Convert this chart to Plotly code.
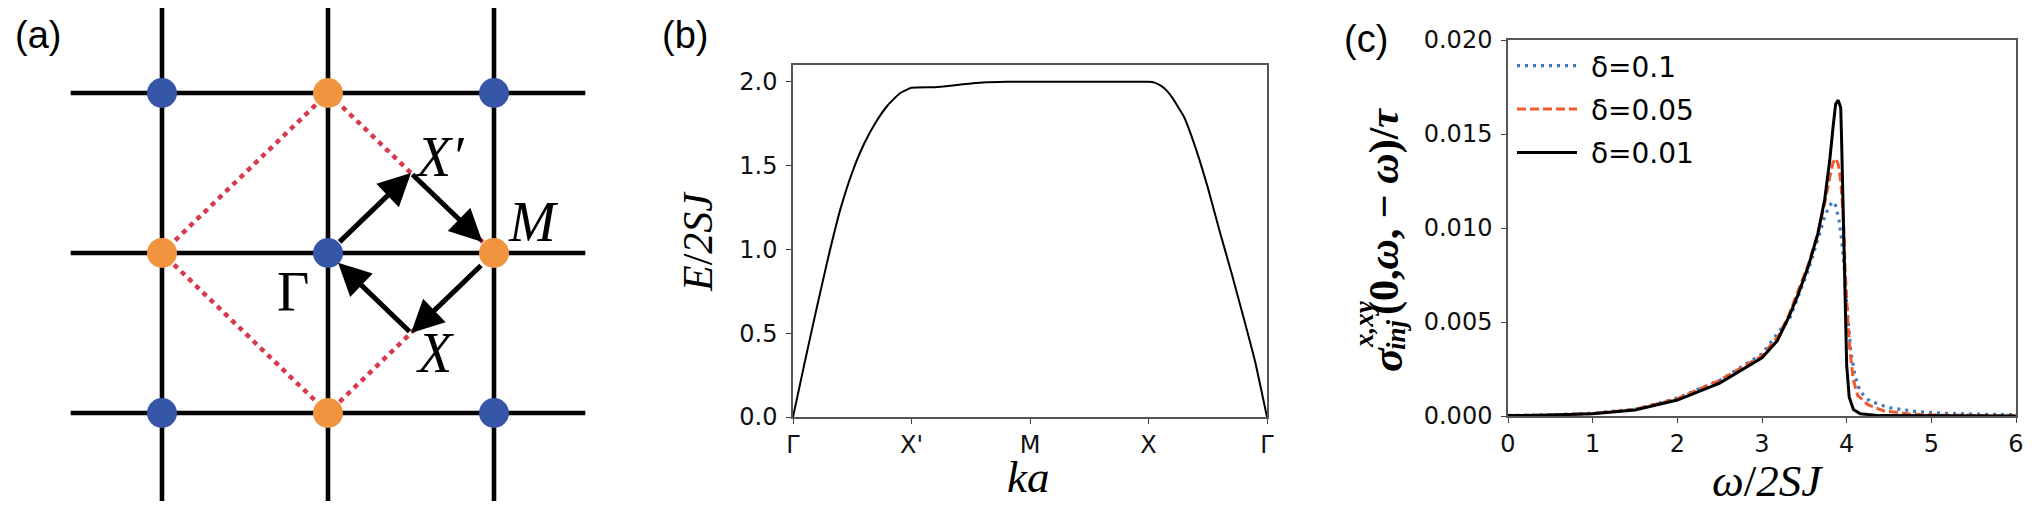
import plotly.graph_objects as go

# page body keeps its default 8px margin, so the figure is 8px smaller
OFF = 8
W, H = 2044 - OFF, 506 - OFF

# (a) square lattice, lattice-constant units
sites = [-1, 0, 1]
bond_reach = 1.55
blue_x = [-1, 1, 0, -1, 1]
blue_y = [1, 1, 0, -1, -1]
orange_x = [0, -1, 1, 0]
orange_y = [1, 0, 0, -1]
zone_x = [0, 1, 0, -1, 0]
zone_y = [1, 0, -1, 0, 1]
hs_points = {"Γ": (0, 0), "X'": (0.5, 0.5), "M": (1, 0), "X": (0.5, -0.5)}
hs_path = ["Γ", "X'", "M", "X", "Γ"]

# (b) dispersion along Γ-X'-M-X-Γ
k_b = [0, 0.1, 0.2, 0.3, 0.4, 0.5, 0.6, 0.7, 0.8, 0.9, 1.0,
       1.2, 1.4, 1.6, 1.8, 2.0, 2.5, 3.0, 3.05, 3.1, 3.15, 3.2, 3.3, 3.4, 3.5,
       3.6, 3.7, 3.8, 3.9, 4.0]
e_b = [0, 0.33, 0.65, 0.96, 1.24, 1.46, 1.63, 1.76, 1.86, 1.93, 1.964,
       1.968, 1.982, 1.995, 2.0, 2.0, 2.0, 2.0, 1.995, 1.978, 1.95, 1.905, 1.79,
       1.60, 1.37, 1.11, 0.86, 0.60, 0.33, 0]
k_ticks = ["Γ", "X'", "M", "X", "Γ"]

# (c) injection current
w_1 = [0, 0.5, 1.0, 1.5, 2.0, 2.5, 3.0, 3.2, 3.32, 3.43, 3.55, 3.66, 3.74, 3.80,
       3.84, 3.87, 3.91, 3.94, 3.97, 3.99, 4.02, 4.05, 4.10, 4.16, 4.27, 4.50,
       4.83, 5.17, 5.5, 6.0]
s_1 = [0.00003, 0.00006, 0.00015, 0.00036, 0.00095, 0.0019, 0.0033, 0.0045,
       0.0051, 0.0064, 0.0078, 0.0094, 0.0106, 0.0112, 0.0114, 0.0112, 0.0104,
       0.0094, 0.0080, 0.0065, 0.0048, 0.0034, 0.0021, 0.0013, 0.0008, 0.00044,
       0.00023, 0.00014, 0.0001, 0.00007]
w_05 = [0, 0.5, 1.0, 1.5, 2.0, 2.5, 3.0, 3.2, 3.32, 3.43, 3.55, 3.66, 3.74, 3.80,
        3.84, 3.87, 3.90, 3.93, 3.96, 3.98, 4.01, 4.04, 4.08, 4.13, 4.25, 4.44,
        4.72, 5.0, 6.0]
s_05 = [0.00002, 0.00005, 0.00013, 0.00035, 0.00092, 0.0019, 0.0032, 0.0043,
        0.0054, 0.0067, 0.0081, 0.0097, 0.0113, 0.0127, 0.0135, 0.0137, 0.0134,
        0.0125, 0.0106, 0.0080, 0.0053, 0.0034, 0.0019, 0.0011, 0.0006, 0.00027,
        0.00012, 0.00005, 0.00001]
w_01 = [0, 0.5, 1.0, 1.5, 2.0, 2.5, 3.0, 3.18, 3.32, 3.43, 3.55, 3.66, 3.74, 3.80,
        3.84, 3.87, 3.90, 3.93, 3.94, 3.96, 3.98, 4.00, 4.03, 4.08, 4.16, 4.39, 6.0]
s_01 = [0.00002, 0.00005, 0.00012, 0.00032, 0.00085, 0.00175, 0.0031, 0.0040,
        0.0053, 0.0065, 0.0080, 0.0097, 0.0115, 0.0136, 0.0154, 0.0166, 0.0168,
        0.0164, 0.0147, 0.0106, 0.0062, 0.0027, 0.0010, 0.00035, 0.00012,
        0.00002, 0]


def px(x):
    return (x - OFF) / W


def py(y):
    return 1 - (y - OFF) / H


def note(txt, x, y, size, family, angle=0, ref="paper"):
    if ref == "paper":
        x, y, xr, yr = px(x), py(y), "paper", "paper"
    else:
        xr, yr = "x3", "y3"
    fig.add_annotation(x=x, y=y, xref=xr, yref=yr, text=txt, showarrow=False,
                       xanchor="center", yanchor="middle", textangle=angle,
                       font=dict(family=family, size=size, color="black"))


fig = go.Figure()

# ---- (a)
gx, gy = [], []
for s in sites:
    gx += [-bond_reach, bond_reach, None]
    gy += [s, s, None]
    gx += [s, s, None]
    gy += [-bond_reach, bond_reach, None]
fig.add_trace(go.Scatter(x=gx, y=gy, mode="lines", line=dict(color="black", width=4.6),
                         xaxis="x3", yaxis="y3", showlegend=False, hoverinfo="skip"))
fig.add_trace(go.Scatter(x=zone_x, y=zone_y, mode="lines",
                         line=dict(color="#d63a4c", width=4.5, dash="5px,5px"),
                         xaxis="x3", yaxis="y3", showlegend=False, hoverinfo="skip"))
fig.add_trace(go.Scatter(x=blue_x, y=blue_y, mode="markers",
                         marker=dict(color="#3657a8", size=30, line=dict(width=0)),
                         xaxis="x3", yaxis="y3", showlegend=False))
fig.add_trace(go.Scatter(x=orange_x, y=orange_y, mode="markers",
                         marker=dict(color="#f09440", size=30, line=dict(width=0)),
                         xaxis="x3", yaxis="y3", showlegend=False))

gap = {"Γ": 14, "M": 16, "X'": 0, "X": 0}
for a, b in zip(hs_path[:-1], hs_path[1:]):
    fig.add_annotation(x=hs_points[b][0], y=hs_points[b][1],
                       ax=hs_points[a][0], ay=hs_points[a][1],
                       xref="x3", yref="y3", axref="x3", ayref="y3", text="",
                       showarrow=True, arrowhead=2, arrowsize=1.3, arrowwidth=5,
                       arrowcolor="black", standoff=gap[b], startstandoff=gap[a])

for txt, x, y in [("<i>X′</i>", 0.67, 0.6), ("<i>M</i>", 1.235, 0.194),
                  ("Γ", -0.21, -0.244), ("<i>X</i>", 0.645, -0.625)]:
    note(txt, x, y, 56, "Liberation Serif", ref="x3")

# ---- (b)
fig.add_trace(go.Scatter(x=k_b, y=e_b, mode="lines",
                         line=dict(color="black", width=2, shape="spline", smoothing=0.4),
                         xaxis="x", yaxis="y", showlegend=False))

# ---- (c)
fig.add_trace(go.Scatter(x=w_1, y=s_1, mode="lines", name="\u00a0δ=0.1", legendgroup="a",
                         line=dict(color="#3b7bc2", width=3.2, dash="3px,5px"),
                         xaxis="x2", yaxis="y2"))
fig.add_trace(go.Scatter(x=w_05, y=s_05, mode="lines", name="\u00a0δ=0.05", legendgroup="b",
                         line=dict(color="#ee5a2a", width=3, dash="9px,4px"),
                         xaxis="x2", yaxis="y2"))
fig.add_trace(go.Scatter(x=w_01, y=s_01, mode="lines", name="\u00a0δ=0.01", legendgroup="c",
                         line=dict(color="black", width=3),
                         xaxis="x2", yaxis="y2"))

tick_font = dict(family="DejaVu Sans", size=24, color="#111")
frame = dict(showline=True, mirror=True, linecolor="#555", linewidth=1.5, ticks="outside",
             ticklen=5, tickwidth=1.3, tickcolor="#444", showgrid=False, zeroline=False,
             tickfont=tick_font, automargin=False)

fig.update_layout(
    width=W, height=H, margin=dict(l=0, r=0, t=0, b=0, autoexpand=False),
    paper_bgcolor="white", plot_bgcolor="white",
    xaxis=dict(domain=[px(793), px(1267)], range=[0, 4], tickvals=[0, 1, 2, 3, 4],
               ticktext=k_ticks, ticklabelstandoff=0, **frame),
    yaxis=dict(domain=[py(417), py(65)], range=[0, 2.1], tickvals=[0, 0.5, 1.0, 1.5, 2.0],
               tickformat=".1f", ticklabelstandoff=4, **frame),
    xaxis2=dict(domain=[px(1508), px(2016)], range=[0, 6], dtick=1, anchor="y2",
                ticklabelstandoff=0, **frame),
    yaxis2=dict(domain=[py(416), py(40)], range=[0, 0.02], dtick=0.005, tickformat=".3f",
                anchor="x2", ticklabelstandoff=4, **frame),
    xaxis3=dict(domain=[0, px(600)], range=[-1.9277, 1.6386], visible=False, anchor="y3",
                automargin=False),
    yaxis3=dict(domain=[0, 1], range=[-1.58125, 1.53125], visible=False, anchor="x3",
                automargin=False),
    legend=dict(x=px(1512), y=py(41), xanchor="left", yanchor="top",
                font=dict(family="DejaVu Sans", size=28, color="black"),
                bgcolor="rgba(0,0,0,0)", itemwidth=60, tracegroupgap=4),
)

for txt, x, y in [("(a)", 38, 35), ("(b)", 685, 35), ("(c)", 1366, 39)]:
    note(txt, x, y, 38, "Liberation Sans")

note("<i>E</i>/<i>2SJ</i>", 698, 242, 42, "Liberation Serif", angle=-90)
note("<i>ka</i>", 1028, 477, 45, "Liberation Serif")
note("<i>ω</i>/<i>2SJ</i>", 1767, 481, 45, "Liberation Serif")

# y label of (c): σ with stacked super/subscripts
note("<b><i>σ</i></b>", 1387, 360, 44, "Liberation Serif", angle=-90)
note("<b><i>x,xy</i></b>", 1364, 324, 27, "Liberation Serif", angle=-90)
note("<b><i>inj</i></b>", 1396, 335, 27, "Liberation Serif", angle=-90)
note("<b>(0,<i>ω</i>, − <i>ω</i>)/<i>τ</i></b>", 1384, 212, 42, "Liberation Serif", angle=-90)

fig.write_html("out.html")
